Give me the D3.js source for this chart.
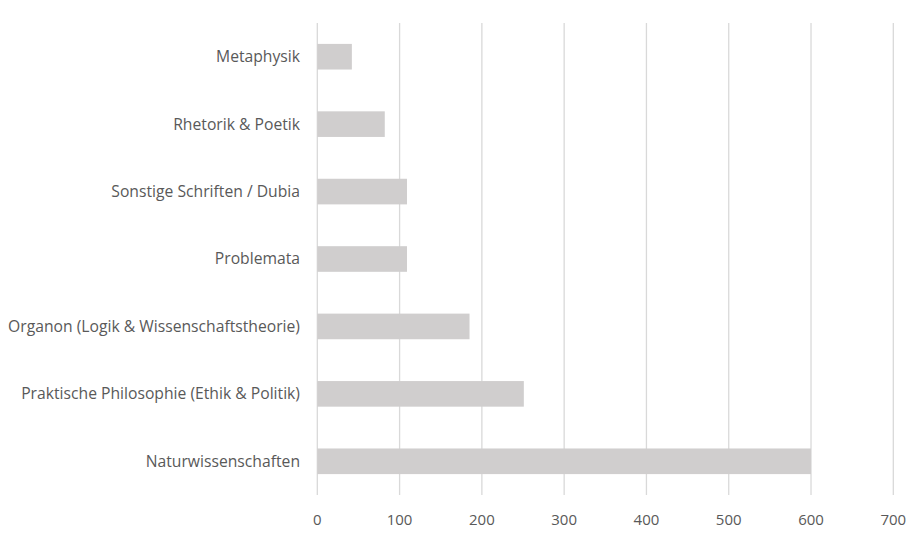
<!DOCTYPE html>
<html>
<head>
<meta charset="utf-8">
<script src="https://d3js.org/d3.v7.min.js"></script>
<style>
  body { margin: 0; background: #fff; }
  text { font-family: "Open Sans", "Noto Sans", sans-serif; fill: #595959; }
</style>
</head>
<body>
<svg id="chart" width="924" height="533"></svg>
<script>
  // data
  var categories = ["Metaphysik", "Rhetorik & Poetik", "Sonstige Schriften / Dubia", "Problemata",
                    "Organon (Logik & Wissenschaftstheorie)", "Praktische Philosophie (Ethik & Politik)", "Naturwissenschaften"];
  var values = [42, 82, 109, 109, 185, 251, 600];
  var xTicks = [0, 100, 200, 300, 400, 500, 600, 700];

  var svg = d3.select("#chart");
  var plotLeft = 317.3, plotRight = 893.3, plotTop = 23, plotBottom = 495;

  var x = d3.scaleLinear().domain([0, 700]).range([plotLeft, plotRight]);
  var y = d3.scaleBand().domain(categories).range([plotTop, plotBottom])
    .paddingInner(0.62).paddingOuter(0.31);

  // gridlines
  svg.append("g").selectAll("line")
    .data(xTicks)
    .enter().append("line")
    .attr("x1", d => x(d)).attr("x2", d => x(d))
    .attr("y1", plotTop).attr("y2", plotBottom)
    .attr("stroke", "#d9d9d9")
    .attr("stroke-width", 1.3);

  // bars
  svg.append("g").selectAll("rect")
    .data(values)
    .enter().append("rect")
    .attr("x", x(0))
    .attr("y", (d, i) => y(categories[i]))
    .attr("width", d => x(d) - x(0))
    .attr("height", y.bandwidth())
    .attr("fill", "#d0cece");

  // category labels
  svg.append("g").selectAll("text")
    .data(categories)
    .enter().append("text")
    .text(d => d)
    .attr("x", 300)
    .attr("y", d => y(d) + y.bandwidth() / 2)
    .attr("dy", "0.35em")
    .attr("text-anchor", "end")
    .style("font-size", "15.7px");

  // x tick labels
  svg.append("g").selectAll("text")
    .data(xTicks)
    .enter().append("text")
    .text(d => d)
    .attr("x", d => x(d))
    .attr("y", 520)
    .attr("dy", "0.35em")
    .attr("text-anchor", "middle")
    .style("font-size", "15px");
</script>
</body>
</html>
